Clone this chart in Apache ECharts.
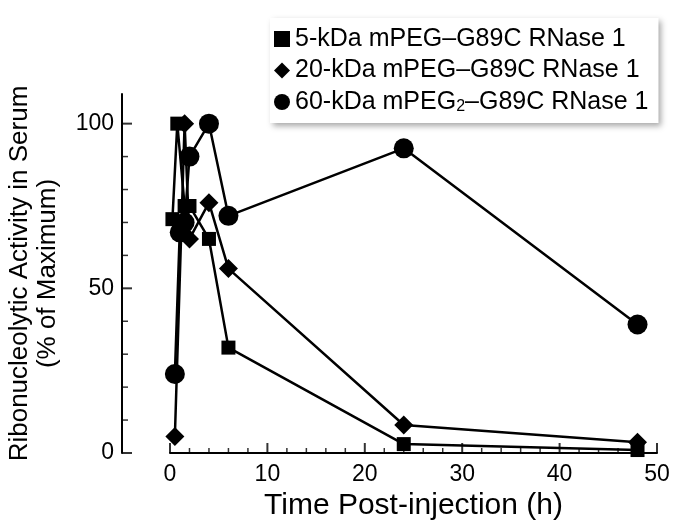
<!DOCTYPE html>
<html>
<head>
<meta charset="utf-8">
<script src="https://cdn.jsdelivr.net/npm/echarts@6/dist/echarts.min.js"></script>
<style>html,body{margin:0;padding:0;background:#fff}#c{width:674px;height:522px}</style>
</head>
<body>
<div id="c"></div>
<script>
// Data
const seriesNames = ['5-kDa mPEG–G89C RNase 1', '20-kDa mPEG–G89C RNase 1', '60-kDa mPEG2–G89C RNase 1'];
const times5 = [0.25, 0.75, 1.5, 2, 4, 6, 24, 48];
const act5 = [71, 100, 75, 75, 65, 32, 2.7, 0.9];
const times20 = [0.5, 1.5, 2, 4, 6, 24, 48];
const act20 = [5, 100, 65, 76, 56, 8.5, 3.3];
const times60 = [0.5, 1, 1.5, 2, 4, 6, 24, 48];
const act60 = [24, 67, 70, 90, 100, 72, 92.5, 39];
// Tick values
const xMajorTicks = [0, 10, 20, 30, 40, 50];
const xMinorTicks = [2, 4, 6, 8, 12, 14, 16, 18, 22, 24, 26, 28, 32, 34, 36, 38, 42, 44, 46, 48];
const yMajorTicks = [0, 50, 100];
const yMinorTicks = [10, 20, 30, 40, 60, 70, 80, 90];

const pair = (t, v) => t.map((x, i) => [x, v[i]]);
const FONT = '"Liberation Sans", Arial, sans-serif';
const Y_OFFSET = 48;

const chart = echarts.init(document.getElementById('c'));
const seriesLine = {color: '#000', width: 2.5};
const seriesItem = {color: '#000'};
function tickSeries(data, size, offset) {
  return {type: 'scatter', data: data, symbol: 'rect', symbolSize: size, symbolOffset: offset,
    itemStyle: {color: '#000'}, silent: true, clip: false, z: 1, emphasis: {disabled: true}};
}
chart.setOption({
  animation: false,
  grid: {left: 170, right: 17, top: 94, bottom: 69, outerBoundsMode: 'none'},
  legend: {
    orient: 'vertical',
    left: 270, top: 18,
    padding: [8, 10, 8, 4],
    itemGap: 5.5,
    itemWidth: 16, itemHeight: 16,
    backgroundColor: '#fff',
    shadowBlur: 6, shadowColor: 'rgba(0,0,0,0.35)', shadowOffsetX: 3, shadowOffsetY: 3,
    data: [
      {name: seriesNames[0], icon: 'rect', itemStyle: {color: '#000'}},
      {name: seriesNames[1], icon: 'diamond', itemStyle: {color: '#000'}},
      {name: seriesNames[2], icon: 'circle', itemStyle: {color: '#000'}}
    ],
    formatter: function (n) {
      if (n.indexOf('mPEG2') >= 0) {
        const p = n.split('mPEG2');
        return p[0] + 'mPEG{sub|2}' + p[1];
      }
      return n;
    },
    textStyle: {
      fontFamily: FONT, fontSize: 25, color: '#000', lineHeight: 26,
      rich: {sub: {fontFamily: FONT, fontSize: 16, color: '#000', lineHeight: 14, verticalAlign: 'bottom'}}
    }
  },
  xAxis: {
    type: 'value', min: 0, max: 50, interval: 10,
    axisLine: {show: true, onZero: false, lineStyle: {color: '#000', width: 2}},
    axisTick: {show: false},
    minorTick: {show: false},
    splitLine: {show: false},
    axisLabel: {fontFamily: FONT, fontSize: 23, color: '#000', margin: 10},
    name: 'Time Post-injection (h)',
    nameLocation: 'middle', nameGap: 28,
    nameTextStyle: {fontFamily: FONT, fontSize: 30, color: '#000'}
  },
  yAxis: {
    type: 'value', min: 0, max: 109, position: 'left', offset: Y_OFFSET,
    axisLine: {show: true, onZero: false, lineStyle: {color: '#000', width: 2}},
    axisTick: {show: false},
    axisLabel: {fontFamily: FONT, fontSize: 23, color: '#000', margin: 8, customValues: yMajorTicks},
    splitLine: {show: false},
    name: 'Ribonucleolytic Activity in Serum\n(% of Maximum)',
    nameLocation: 'middle', nameGap: 60,
    nameTextStyle: {fontFamily: FONT, fontSize: 26, color: '#000', lineHeight: 28}
  },
  series: [
    tickSeries(xMajorTicks.map(v => [v, 0]), [2, 10], [0, -5]),
    tickSeries(xMinorTicks.map(v => [v, 0]), [1.5, 5], [0, -2.5]),
    tickSeries(yMajorTicks.map(v => [0, v]), [10, 2], [-Y_OFFSET + 5, 0]),
    tickSeries(yMinorTicks.map(v => [0, v]), [6, 1.5], [-Y_OFFSET + 3, 0]),
    {name: seriesNames[0], type: 'line', data: pair(times5, act5), symbol: 'rect', symbolSize: 14, lineStyle: seriesLine, itemStyle: seriesItem, z: 2},
    {name: seriesNames[1], type: 'line', data: pair(times20, act20), symbol: 'diamond', symbolSize: 19, lineStyle: seriesLine, itemStyle: seriesItem, z: 3},
    {name: seriesNames[2], type: 'line', data: pair(times60, act60), symbol: 'circle', symbolSize: 20, lineStyle: seriesLine, itemStyle: seriesItem, z: 4}
  ]
});
</script>
</body>
</html>
